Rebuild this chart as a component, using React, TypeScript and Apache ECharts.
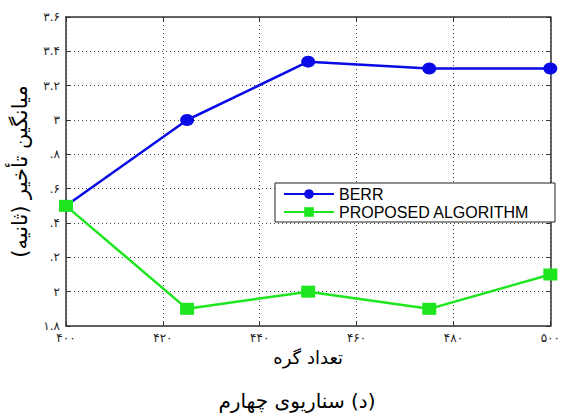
import React, { useEffect, useRef } from "react";
import * as echarts from "echarts";

const xValues = [400, 425, 450, 475, 500];
const berrValues = [2.5, 3.0, 3.34, 3.3, 3.3];
const proposedValues = [2.5, 1.9, 2.0, 1.9, 2.1];
const seriesNames = ["BERR", "PROPOSED ALGORITHM"];
const xTickLabels = ["۴۰۰", "۴۲۰", "۴۴۰", "۴۶۰", "۴۸۰", "۵۰۰"];
const yTickLabels = ["۱.۸", "۲", ".۲", ".۴", ".۶", ".۸", "۳", "۳.۲", "۳.۴", "۳.۶"];
const xAxisTitle = "تعداد گره";
const yAxisTitle = "میانگین تأخیر (ثانیه)";
const caption = "(د) سناریوی چهارم";

const X_MIN = 400, X_MAX = 500, X_INT = 20;
const Y_MIN = 1.8, Y_MAX = 3.6, Y_INT = 0.2;

const RLM = "\u200F";

export default function App() {
  const ref = useRef<HTMLDivElement>(null);
  useEffect(() => {
    if (!ref.current) return;
    const chart = echarts.init(ref.current, null, { renderer: "svg" });
    const persianFont = "DejaVu Sans";
    const toPair = (ys: number[]) => xValues.map((x, i) => [x, ys[i]]);
    const mirrorAxis = {
      axisLabel: { show: false },
      splitLine: { show: false },
      axisLine: { show: true, lineStyle: { color: "#333", width: 1.5 } },
      axisTick: { show: true, inside: true, length: 4, lineStyle: { color: "#333" } },
    };
    chart.setOption({
      animation: false,
      backgroundColor: "#fff",
      grid: { left: 66, right: 4, top: 17, bottom: 91, containLabel: false },
      legend: {
        orient: "vertical",
        left: 275,
        top: 183,
        data: seriesNames,
        itemWidth: 50,
        itemHeight: 12,
        itemGap: 2,
        padding: [3, 6, 2, 8],
        borderColor: "#222",
        borderWidth: 1,
        backgroundColor: "#fff",
        borderRadius: 0,
        textStyle: {
          fontFamily: "Liberation Sans",
          fontSize: 16,
          color: "#000",
          lineHeight: 16,
          width: 210,
        },
      },
      xAxis: [
        {
          type: "value",
          min: X_MIN,
          max: X_MAX,
          interval: X_INT,
          position: "bottom",
          name: RLM + xAxisTitle + RLM,
          nameLocation: "middle",
          nameGap: 22,
          nameTextStyle: { fontFamily: persianFont, fontSize: 18, color: "#000" },
          axisLine: { show: true, lineStyle: { color: "#333", width: 1.5 } },
          axisTick: { show: true, inside: true, length: 4, lineStyle: { color: "#333" } },
          axisLabel: {
            fontFamily: persianFont,
            fontSize: 12,
            color: "#222",
            margin: 6,
            formatter: (v: number) => xTickLabels[Math.round((v - X_MIN) / X_INT)] ?? "",
          },
          splitLine: { show: true, lineStyle: { color: "#444", type: [1, 3], width: 1 } },
        },
        { type: "value", min: X_MIN, max: X_MAX, interval: X_INT, position: "top", ...mirrorAxis },
      ],
      yAxis: [
        {
          type: "value",
          min: Y_MIN,
          max: Y_MAX,
          interval: Y_INT,
          position: "left",
          name: RLM + yAxisTitle + RLM,
          nameLocation: "middle",
          nameGap: 36,
          nameTextStyle: { fontFamily: persianFont, fontSize: 21, color: "#000" },
          axisLine: { show: true, lineStyle: { color: "#333", width: 1.5 } },
          axisTick: { show: true, inside: true, length: 4, lineStyle: { color: "#333" } },
          axisLabel: {
            fontFamily: persianFont,
            fontSize: 12,
            color: "#222",
            margin: 6,
            formatter: (v: number) => yTickLabels[Math.round((v - Y_MIN) / Y_INT)] ?? "",
          },
          splitLine: { show: true, lineStyle: { color: "#444", type: [1, 3], width: 1 } },
        },
        { type: "value", min: Y_MIN, max: Y_MAX, interval: Y_INT, position: "right", ...mirrorAxis },
      ],
      graphic: [
        {
          type: "text",
          x: 297,
          y: 391,
          style: {
            text: RLM + caption + RLM,
            fontFamily: persianFont,
            fontSize: 20,
            fill: "#000",
            align: "center",
            verticalAlign: "top",
          },
        },
      ],
      series: [
        {
          name: seriesNames[0],
          type: "line",
          xAxisIndex: 0,
          yAxisIndex: 0,
          data: toPair(berrValues),
          symbol: "circle",
          symbolSize: [14, 12],
          lineStyle: { color: "#0a0ae6", width: 2.5 },
          itemStyle: { color: "#0a0ae6" },
        },
        {
          name: seriesNames[1],
          type: "line",
          xAxisIndex: 0,
          yAxisIndex: 0,
          data: toPair(proposedValues),
          symbol: "rect",
          symbolSize: [14, 12],
          lineStyle: { color: "#1ee61e", width: 2.5 },
          itemStyle: { color: "#1ee61e" },
        },
      ],
    });
    return () => chart.dispose();
  }, []);
  return (
    <div
      ref={ref}
      style={{ position: "absolute", left: 0, top: 0, width: 563, height: 417 }}
    />
  );
}
